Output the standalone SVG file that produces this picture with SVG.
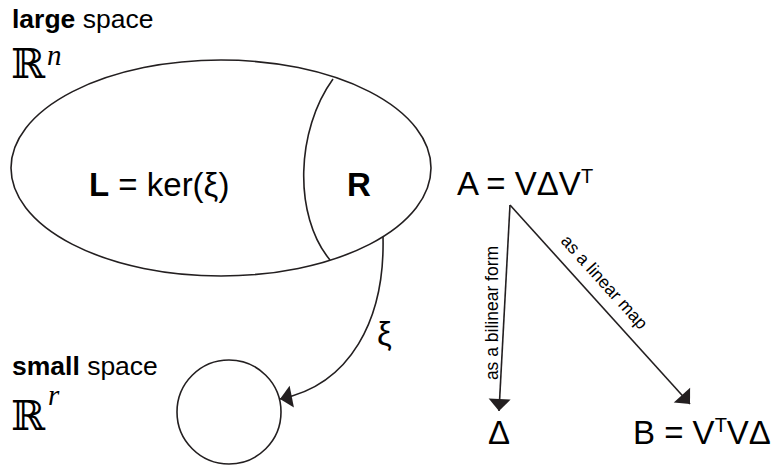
<svg xmlns="http://www.w3.org/2000/svg" width="782" height="466" viewBox="0 0 782 466">
<style>
.ln{fill:none;stroke:#231f20;stroke-width:1.6}
.lab{font-family:"Liberation Sans",Arial,sans-serif;fill:#000;font-size:26.5px}
.bb{font-family:"DejaVu Serif",serif;font-size:41px;fill:#000}
.sup{font-family:"Liberation Serif",serif;font-style:italic;font-size:29px;fill:#000}
.m{font-family:"Liberation Sans",Arial,sans-serif;font-size:33px;fill:#000}
.sm{font-family:"Liberation Sans",Arial,sans-serif;font-size:17.5px;fill:#000}
</style>
<defs>
<marker id="ah" markerUnits="userSpaceOnUse" markerWidth="24" markerHeight="24" refX="12" refY="0" viewBox="-2 -12 16 24" orient="auto">
<path d="M0,-11 L12,0 L0,11 z" fill="#231f20"/>
</marker>
</defs>
<g id="large-space-label">
<text class="lab" x="12" y="28"><tspan font-weight="bold">large</tspan> space</text>
<text class="bb" x="11" y="78">ℝ</text>
<text class="sup" x="47" y="65">n</text>
</g>
<g id="small-space-label">
<text class="lab" x="12" y="375"><tspan font-weight="bold">small</tspan> space</text>
<text class="bb" x="11" y="430">ℝ</text>
<text class="sup" x="48" y="405">r</text>
</g>
<g id="large-space">
<ellipse class="ln" cx="221" cy="168" rx="210" ry="108"/>
<path class="ln" d="M333,79 C296,130 293,215 330,260"/>
<text class="m" x="89" y="196"><tspan font-weight="bold">L</tspan> = ker(ξ)</text>
<text class="m" x="347" y="196" font-weight="bold">R</text>
</g>
<g id="small-space">
<circle class="ln" cx="229" cy="412" r="52"/>
</g>
<g id="A">
<text class="m" x="457" y="195">A = VΔV<tspan font-size="20" dy="-12">T</tspan></text>
</g>
<g id="Delta">
<text class="m" x="488" y="444">Δ</text>
</g>
<g id="B">
<text class="m" x="633" y="444">B = V<tspan font-size="20" dy="-12">T</tspan><tspan dy="12">VΔ</tspan></text>
</g>
<g id="connectors">
<path class="ln" d="M383,237 C385,320 350,385 280,399" marker-end="url(#ah)"/>
<text class="m" x="377" y="345">ξ</text>
<path class="ln" d="M510,205 L499,411" marker-end="url(#ah)"/>
<text class="sm" transform="translate(498,313) rotate(-90)" text-anchor="middle">as a bilinear form</text>
<path class="ln" d="M510,205 L690,404" marker-end="url(#ah)"/>
<text class="sm" transform="translate(600,286) rotate(47.9)" text-anchor="middle">as a linear map</text>
</g>
</svg>
